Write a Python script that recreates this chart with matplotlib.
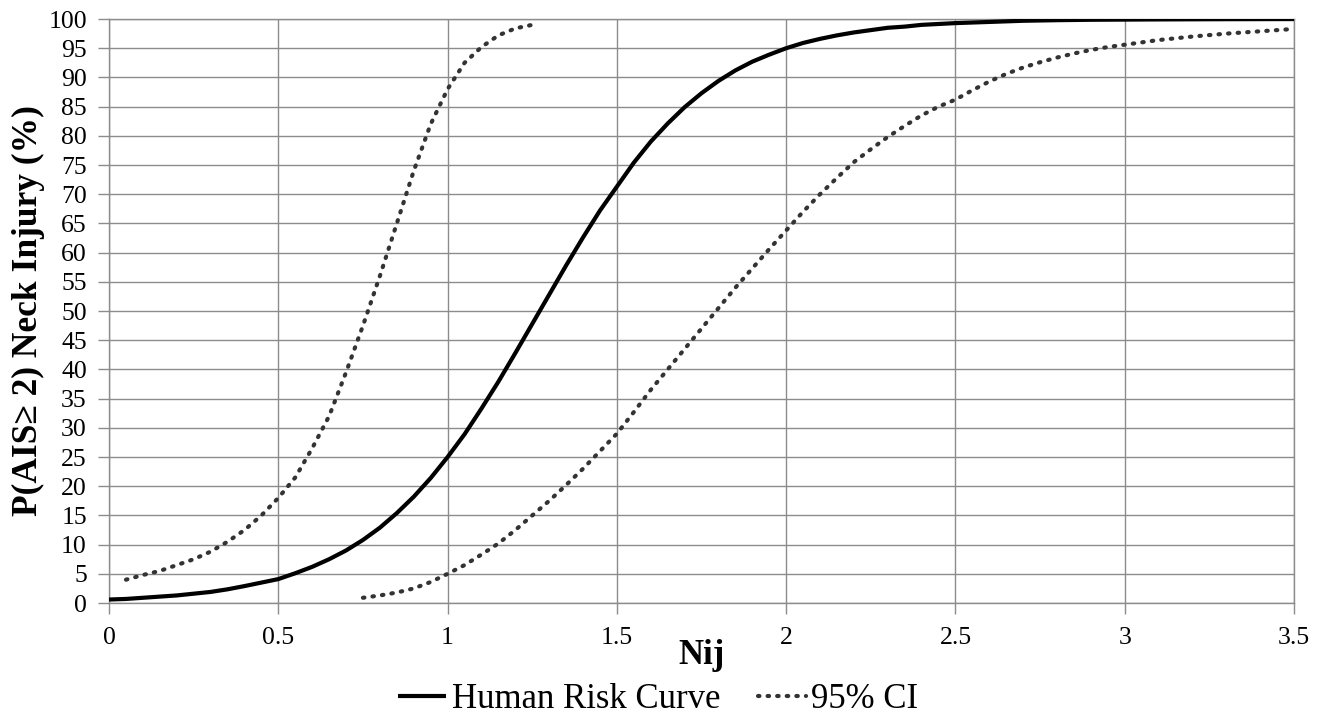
import matplotlib
matplotlib.use("Agg")
import matplotlib.pyplot as plt

# values
nij_risk = [0.0, 0.05, 0.1, 0.15, 0.2, 0.25, 0.3, 0.35, 0.4, 0.45, 0.5, 0.55, 0.6,
            0.65, 0.7, 0.75, 0.8, 0.85, 0.9, 0.95, 1.0, 1.05, 1.1, 1.15, 1.2, 1.25,
            1.3, 1.35, 1.4, 1.45, 1.5, 1.55, 1.6, 1.65, 1.7, 1.75, 1.8, 1.85, 1.9,
            1.95, 2.0, 2.05, 2.1, 2.15, 2.2, 2.25, 2.3, 2.35, 2.4, 2.45, 2.5, 2.6,
            2.7, 2.8, 2.9, 3.0, 3.1, 3.2, 3.3, 3.4, 3.5]
risk = [0.6, 0.7, 0.9, 1.1, 1.3, 1.6, 1.9, 2.35, 2.9, 3.5, 4.1, 5.1, 6.2,
        7.5, 9.0, 10.8, 12.9, 15.4, 18.2, 21.4, 25.0, 28.9, 33.3, 37.9, 42.8, 47.8,
        52.8, 57.8, 62.6, 67.2, 71.3, 75.4, 79.0, 82.1, 84.9, 87.3, 89.4, 91.2, 92.7,
        93.9, 95.0, 95.9, 96.6, 97.2, 97.7, 98.1, 98.5, 98.7, 99.0, 99.15, 99.3, 99.5,
        99.7, 99.8, 99.87, 99.9, 99.93, 99.95, 99.97, 99.98, 99.99]

nij_ci_low = [0.05, 0.1, 0.15, 0.2, 0.25, 0.3, 0.35, 0.4, 0.45, 0.5, 0.55, 0.6, 0.65,
              0.7, 0.75, 0.8, 0.85, 0.9, 0.95, 1.0, 1.05, 1.1, 1.15, 1.2, 1.25]
ci_low = [4.0, 4.8, 5.5, 6.5, 7.5, 8.8, 10.5, 12.5, 15.0, 18.0, 21.5, 26.5, 32.0,
          39.5, 47.5, 56.0, 65.0, 74.0, 82.0, 88.0, 92.5, 95.2, 97.2, 98.4, 99.0]

nij_ci_high = [0.75, 0.8, 0.85, 0.9, 0.95, 1.0, 1.05, 1.1, 1.15, 1.2, 1.25, 1.3, 1.35,
               1.4, 1.45, 1.5, 1.55, 1.6, 1.65, 1.7, 1.75, 1.8, 1.85, 1.9, 1.95, 2.0,
               2.05, 2.1, 2.15, 2.2, 2.25, 2.3, 2.35, 2.4, 2.45, 2.5, 2.55, 2.6, 2.65,
               2.7, 2.75, 2.8, 2.85, 2.9, 2.95, 3.0, 3.1, 3.2, 3.3, 3.4, 3.5]
ci_high = [0.9, 1.3, 1.8, 2.5, 3.6, 5.0, 6.5, 8.3, 10.2, 12.5, 15.0, 17.5, 20.2,
           23.0, 26.0, 29.0, 32.7, 36.5, 40.0, 43.5, 47.0, 50.5, 54.0, 57.3, 60.6, 63.8,
           67.0, 70.0, 72.8, 75.5, 77.7, 79.8, 81.7, 83.5, 85.0, 86.2, 87.8, 89.3, 90.6,
           91.7, 92.6, 93.4, 94.1, 94.7, 95.2, 95.6, 96.4, 97.0, 97.5, 97.9, 98.3]

x_ticks = [0, 0.5, 1, 1.5, 2, 2.5, 3, 3.5]
x_labels = ["0", "0.5", "1", "1.5", "2", "2.5", "3", "3.5"]
y_ticks = list(range(0, 101, 5))

plt.rcParams['font.family'] = ['Liberation Serif', 'DejaVu Serif']

fig = plt.figure(figsize=(13.25, 7.15), dpi=100)
ax = fig.add_axes([0.0823, 0.1566, 0.8943, 0.8168])

grid_col = "#8c8c8c"
dot_col = "#333333"
dots = (0, (0.35, 1.95))
ax.plot(nij_risk, risk, color="black", lw=3.0, label="Human Risk Curve",
        solid_capstyle="butt", solid_joinstyle="round", zorder=3)
ax.plot(nij_ci_low, ci_low, color=dot_col, lw=3.0, linestyle=dots,
        dash_capstyle="round", label="95% CI", zorder=3)
ax.plot(nij_ci_high, ci_high, color=dot_col, lw=3.0, linestyle=dots,
        dash_capstyle="round", zorder=3)

ax.set_xlim(0, 3.5)
ax.set_ylim(0, 100)
ax.set_xticks(x_ticks)
ax.set_xticklabels(x_labels)
ax.set_yticks(y_ticks)
ax.grid(True, color=grid_col, lw=1.0)
ax.set_axisbelow(True)
for s in ax.spines.values():
    s.set_color(grid_col)
    s.set_linewidth(1.0)
ax.tick_params(axis="both", colors=grid_col, labelcolor="black", labelsize=18.5,
               length=8, width=1.0)
ax.tick_params(axis="x", pad=9)
ax.tick_params(axis="y", pad=8)

ax.set_xlabel("Nij", fontsize=25, fontweight="bold", labelpad=-7)
ax.set_ylabel("P(AIS≥ 2) Neck Injury (%)", fontsize=25.5, fontweight="bold", labelpad=2)

leg = fig.legend(loc="center", bbox_to_anchor=(0.497, 0.022), ncol=2,
                 frameon=False, fontsize=25, handlelength=1.38, handletextpad=0.15,
                 columnspacing=1.1, borderpad=0.0)

fig.savefig("out.png", dpi=100)
